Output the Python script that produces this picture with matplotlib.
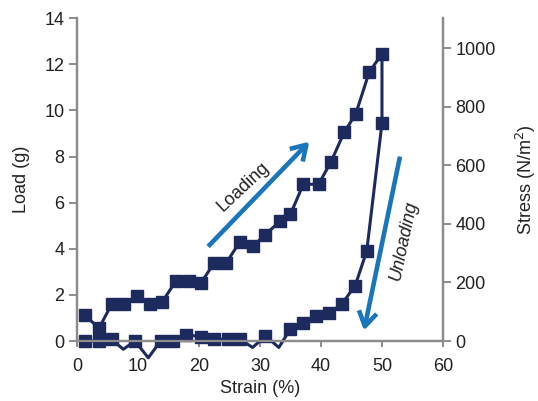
import numpy as np
import matplotlib
matplotlib.use("Agg")
import matplotlib.pyplot as plt

plt.rcParams['font.family'] = ['Liberation Sans', 'DejaVu Sans']

# Loading then unloading (strain %, load g)
strain = [1.3, 3.6, 5.7, 7.7, 9.8, 12.0, 14.0, 16.2, 18.3, 20.3, 22.5, 24.5,
          26.7, 28.8, 30.8, 33.3, 35.0, 37.1, 39.6, 41.6, 43.8, 45.7, 47.9, 50.0,
          50.0, 47.5, 45.6, 43.4, 41.3, 39.2, 37.1, 35.0, 33.1, 30.9, 28.8, 26.7,
          24.7, 22.5, 20.4, 17.9, 15.8, 13.7, 11.7, 9.5, 7.6, 5.7, 3.6, 1.3]
load = [1.13, 0.55, 1.6, 1.6, 1.95, 1.6, 1.7, 2.6, 2.6, 2.5, 3.4, 3.4,
        4.3, 4.1, 4.6, 5.2, 5.5, 6.8, 6.8, 7.75, 9.05, 9.85, 11.66, 12.46,
        9.45, 3.9, 2.4, 1.6, 1.2, 1.1, 0.8, 0.53, -0.28, 0.22, -0.28, 0.08,
        0.08, 0.08, 0.18, 0.28, 0.0, 0.0, -0.73, 0.0, -0.36, 0.07, 0.0, 0.0]

x_ticks = [0, 10, 20, 30, 40, 50, 60]
y_ticks = [0, 2, 4, 6, 8, 10, 12, 14]
stress_ticks = [0, 200, 400, 600, 800, 1000]

navy = '#1d2a5e'
blue = '#1a75bb'
gray = '#8c8c8c'
txt = '#222222'

fig = plt.figure(figsize=(5.38, 4.01), dpi=100)
ax = fig.add_axes([0.143, 0.1496, 0.6804, 0.8048])

y = np.array(load)
mask = list(y >= -0.1)
ax.plot(strain, load, color=navy, lw=2.2, marker='s', markersize=8.5,
        markevery=mask, clip_on=False, zorder=3)

ax.set_xlim(0, 60)
ax.set_ylim(0, 14)
ax.set_xticks(x_ticks)
ax.set_yticks(y_ticks)

ax2 = ax.twinx()
ax2.set_ylim(0, 1102.5)
ax2.set_yticks(stress_ticks)

for a in (ax, ax2):
    for s in a.spines.values():
        s.set_color(gray)
        s.set_linewidth(1.6)
    a.spines['top'].set_visible(False)
    a.tick_params(axis='y', colors=gray, labelcolor=txt, width=1.4, length=6,
                  pad=3, labelsize=13)
ax.tick_params(axis='x', colors=gray, labelcolor=txt, width=1.4, length=4,
               pad=8, labelsize=13)

ax.set_xlabel('Strain (%)', fontsize=13, color=txt, labelpad=4)
ax.set_ylabel('Load (g)', fontsize=13, color=txt, labelpad=10)
ax2.set_ylabel('Stress (N/m$^2$)', fontsize=13, color=txt, labelpad=13)

arrow_kw = dict(arrowstyle='->,head_length=1.05,head_width=0.65', color=blue,
                lw=3.3, shrinkA=0, shrinkB=0, capstyle='butt')
ax.annotate('', xy=(38.1, 8.65), xytext=(21.5, 4.1),
            arrowprops=arrow_kw, zorder=4)
ax.annotate('', xy=(47.05, 0.45), xytext=(52.95, 8.0),
            arrowprops=arrow_kw, zorder=4)

ax.text(27.3, 6.7, 'Loading', rotation=43, fontsize=13, color=txt,
        ha='center', va='center')
ax.text(53.5, 4.35, 'Unloading', rotation=78, fontsize=13, color=txt,
        ha='center', va='center', style='italic')

fig.savefig('out.png', dpi=100)
